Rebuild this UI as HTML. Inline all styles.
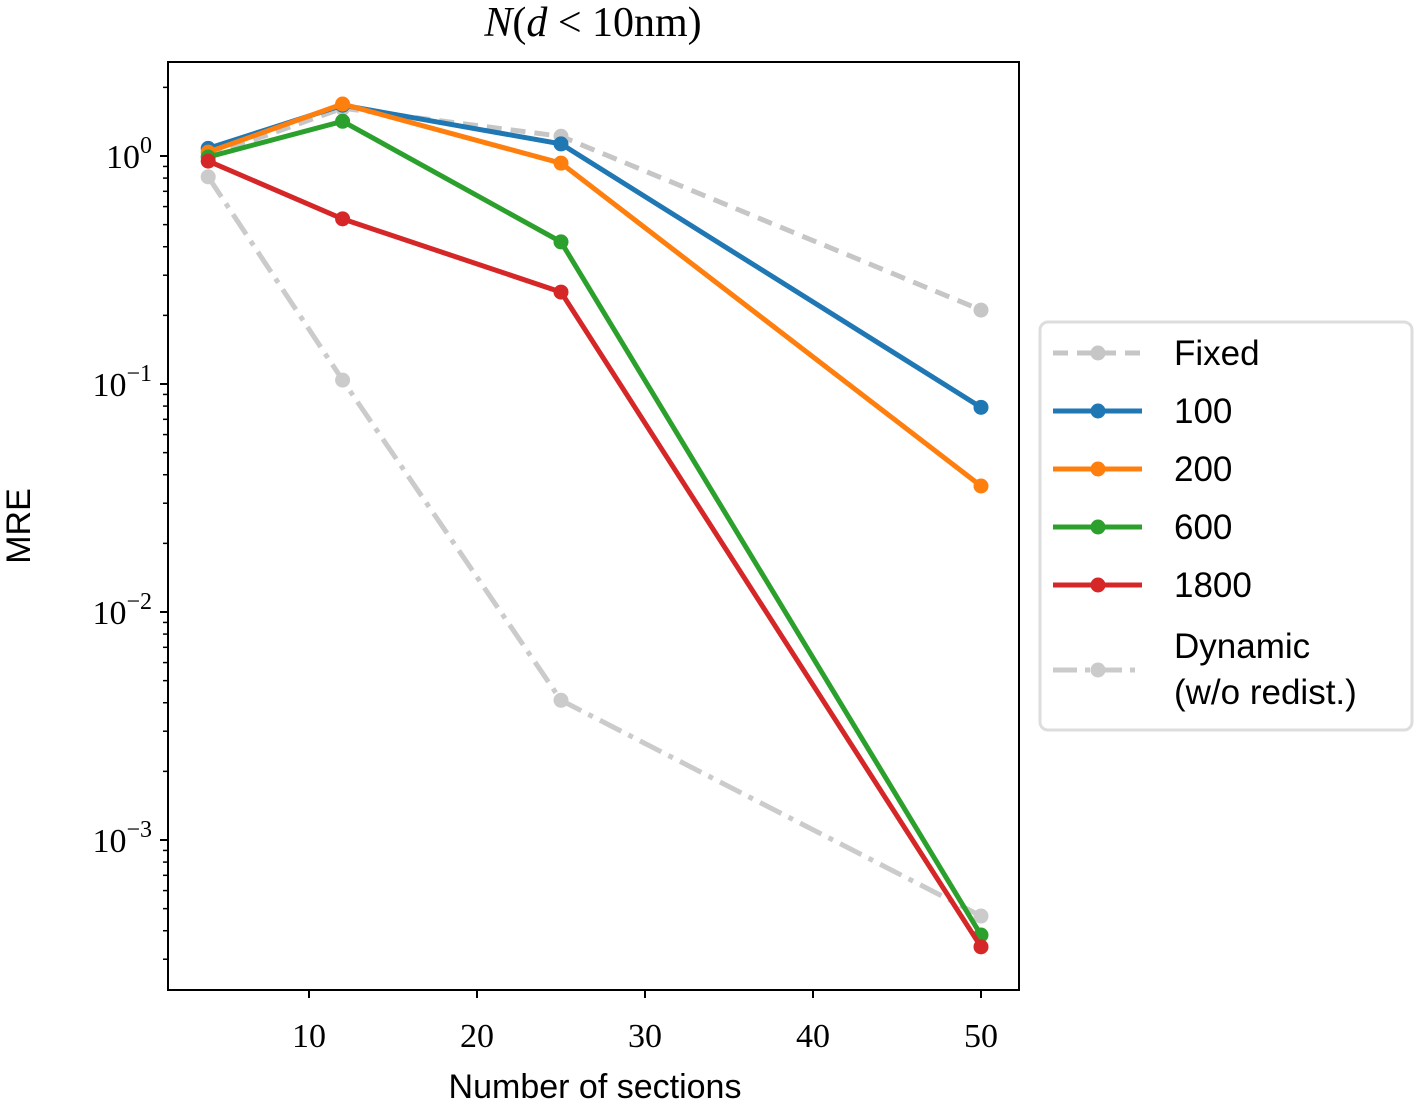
<!DOCTYPE html>
<html><head><meta charset="utf-8"><style>
html,body{margin:0;padding:0;background:#fff;}
svg text{font-family:"Liberation Serif",serif;}
.sans{font-family:"Liberation Sans",sans-serif;}
</style></head><body>
<svg id="chart" width="1415" height="1102" xmlns="http://www.w3.org/2000/svg">
<g id="grid"></g>
<g id="series"></g>
<rect x="168" y="62" width="851" height="928" fill="none" stroke="#000" stroke-width="2"/>
<g id="axes"></g>
<text x="593" y="36" font-size="42" text-anchor="middle"><tspan font-style="italic">N</tspan>(<tspan font-style="italic">d</tspan> &lt; 10nm)</text>
<text class="sans" x="595" y="1098" font-size="34" text-anchor="middle">Number of sections</text>
<text class="sans" x="0" y="0" font-size="34" text-anchor="middle" transform="translate(30,526) rotate(-90)">MRE</text>
<g id="legend">
<rect x="1040" y="322" width="372" height="408" rx="8" fill="#fff" stroke="#ddd" stroke-width="3"/>
</g>
</svg>
<script>
const categories=[4,12,25,50];
const fixedVals=[1.0,1.62,1.22,0.211];
const s100=[1.08,1.67,1.13,0.079];
const s200=[1.04,1.69,0.93,0.0357];
const s600=[0.99,1.42,0.42,0.000383];
const s1800=[0.95,0.53,0.253,0.00034];
const dynVals=[0.81,0.104,0.0041,0.000464];
const xTicks=[10,20,30,40,50];
const yTickExps=[0,-1,-2,-3];
const seriesNames=["Fixed","100","200","600","1800","Dynamic"];
const NS="http://www.w3.org/2000/svg";
function X(v){return 141+16.8*v;}
function Y(v){return 156-228*Math.log10(v);}
function mk(tag,attrs,parent){const e=document.createElementNS(NS,tag);for(const k in attrs)e.setAttribute(k,attrs[k]);parent.appendChild(e);return e;}
const axes=document.getElementById('axes');
xTicks.forEach(t=>{
  const l=mk('line',{x1:X(t),x2:X(t),y1:990,y2:998,stroke:'#000','stroke-width':2},axes);
  
  
  const tx=mk('text',{x:X(t),y:1047,'font-size':34,'text-anchor':'middle'},axes);
  tx.textContent=t;
  
  
});
yTickExps.forEach(e=>{
  const y=Y(Math.pow(10,e));
  const l=mk('line',{x1:160,x2:168,y1:y,y2:y,stroke:'#000','stroke-width':2},axes);
  
  
  const tx=mk('text',{x:152,y:y+12,'font-size':34,'text-anchor':'end'},axes);
  
  
  tx.appendChild(document.createTextNode('10'));
  const ts=document.createElementNS(NS,'tspan');ts.setAttribute('dy','-15');ts.setAttribute('font-size','24');
  ts.textContent=e===0?'0':'\u2212'+(-e);tx.appendChild(ts);
});
for(let e=-4;e<=0;e++){for(let m=2;m<=9;m++){const v=m*Math.pow(10,e);const y=Y(v);if(y<62||y>990)continue;
  const l=mk('line',{x1:163,x2:168,y1:y,y2:y,stroke:'#000','stroke-width':1.5},axes);
  
  }}
const ser=document.getElementById('series');
const defs=[
 {vals:fixedVals,c:'#c6c6c6',dash:'15,9',name:'series-fixed'},
 {vals:dynVals,c:'#cbcbcb',dash:'24,8,5,8',name:'series-dynamic'},
 {vals:s100,c:'#1f77b4',dash:'',name:'series-100'},
 {vals:s200,c:'#ff7f0e',dash:'',name:'series-200'},
 {vals:s600,c:'#2ca02c',dash:'',name:'series-600'},
 {vals:s1800,c:'#d62728',dash:'',name:'series-1800'}];
defs.forEach(d=>{
  const g=mk('g',{},ser);
  
  
  const pts=categories.map((c,i)=>X(c)+','+Y(d.vals[i])).join(' ');
  const p=mk('polyline',{points:pts,fill:'none',stroke:d.c,'stroke-width':5,'stroke-dasharray':d.dash},g);
  
  
  categories.forEach((c,i)=>{const m=mk('circle',{cx:X(c),cy:Y(d.vals[i]),r:7.5,fill:d.c},g);
    
    });
});
const leg=document.getElementById('legend');
const lg=[{c:'#c6c6c6',dash:'15,9',t:['Fixed'],y:353},{c:'#1f77b4',dash:'',t:['100'],y:411},{c:'#ff7f0e',dash:'',t:['200'],y:469},
 {c:'#2ca02c',dash:'',t:['600'],y:527},{c:'#d62728',dash:'',t:['1800'],y:585},{c:'#cbcbcb',dash:'24,8,5,8',t:['Dynamic','(w/o redist.)'],y:670}];
lg.forEach(e=>{
  const g=mk('g',{},leg);
  
  
  mk('line',{x1:1053,x2:1142,y1:e.y,y2:e.y,stroke:e.c,'stroke-width':5,'stroke-dasharray':e.dash},g);
  mk('circle',{cx:1098,cy:e.y,r:7.5,fill:e.c},g);
  e.t.forEach((s,i)=>{const off=e.t.length>1?(i===0?-24:22):0;
    const tx=mk('text',{x:1174,y:e.y+12+off,'font-size':35,class:'sans'},g);tx.textContent=s;});
});
</script>
</body></html>
